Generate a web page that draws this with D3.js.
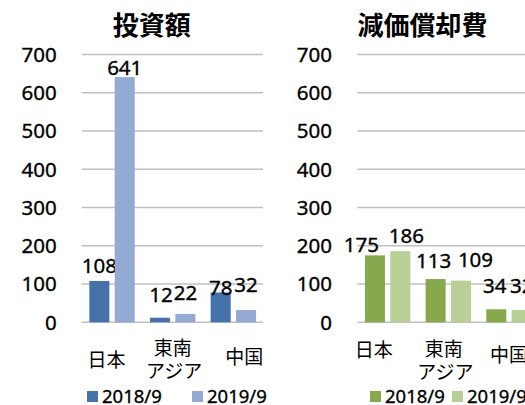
<!DOCTYPE html>
<html>
<head>
<meta charset="utf-8">
<script src="https://cdn.jsdelivr.net/npm/d3@7"></script>
<style>
  body { margin: 0; background: #fff; }
  svg { display: block; }
  text { fill: #000; }
  .num { stroke: #000; stroke-width: 0.35px; }
</style>
</head>
<body>
<div id="chart"></div>
<script>
// data
const categories = ["日本", "東南アジア", "中国"];
const seriesNames = ["2018/9", "2019/9"];
const investment2018 = [108, 12, 78];
const investment2019 = [641, 22, 32];
const depreciation2018 = [175, 113, 34];
const depreciation2019 = [186, 109, 32];
const yTicks = [0, 100, 200, 300, 400, 500, 600, 700];

const width = 525;
const height = 405;

const svg = d3.select('#chart')
    .append('svg')
    .attr('width', width)
    .attr('height', height);

// shared vertical scale
const y = d3.scaleLinear()
    .domain([0, 700])
    .range([322.3, 54.5]);

// label nudges (Excel moved some of them by hand)
const panels = [
    {
        title: '投資額', titleX: 151.7, x0: 81.7, gridEnd: 263, tickRight: 56.7,
        series: [investment2018, investment2019],
        colors: ['#4672aa', '#95aad2'],
        nudge: [[[0, -8], [1, -16], [0, 2.5]], [[0, -2], [0, -14], [0, -18]]],
        catDx: [-5.5, 0, 11], catY: [360, 360, 357],
        legendX: [87, 192]
    },
    {
        title: '減価償却費', titleX: 422.5, x0: 357.3, gridEnd: 540, tickRight: 332,
        series: [depreciation2018, depreciation2019],
        colors: ['#88a84e', '#b8cf95'],
        nudge: [[[-13.5, -3], [-2, -11], [-1.5, -16]], [[6, -8], [14.5, -13.6], [0, -17]]],
        catDx: [-14, -4.5, 0], catY: [350, 361, 355],
        legendX: [370, 452]
    }
];

panels.forEach(p => {
    const g = svg.append('g');

    const x = d3.scaleBand()
        .domain(categories)
        .range([p.x0, p.x0 + 182]);

    const xs = d3.scaleBand()
        .domain(seriesNames)
        .range([0, x.bandwidth()])
        .paddingInner(0.21)
        .paddingOuter(0.3);

    // title
    g.append('text')
        .attr('x', p.titleX)
        .attr('y', 26)
        .attr('dy', '0.35em')
        .attr('text-anchor', 'middle')
        .style('font-family', '"Noto Sans CJK JP"')
        .style('font-weight', 'bold')
        .style('font-size', '26px')
        .text(p.title);

    // gridlines
    g.selectAll('line.grid')
        .data(yTicks)
        .enter().append('line')
        .attr('class', 'grid')
        .attr('x1', p.x0)
        .attr('x2', p.gridEnd)
        .attr('y1', d => y(d))
        .attr('y2', d => y(d))
        .attr('stroke', '#c0c0c0')
        .attr('stroke-width', 1.6);

    // tick labels
    g.selectAll('text.tick')
        .data(yTicks)
        .enter().append('text')
        .attr('class', 'tick num')
        .attr('x', p.tickRight)
        .attr('y', d => y(d))
        .attr('dy', '0.36em')
        .attr('text-anchor', 'end')
        .style('font-family', '"Noto Sans"')
        .style('font-size', '20.5px')
        .text(d => d);

    // bars + labels
    p.series.forEach((vals, si) => {
        const name = seriesNames[si];
        g.selectAll('rect.s' + si)
            .data(vals)
            .enter().append('rect')
            .attr('class', 's' + si)
            .attr('x', (d, i) => x(categories[i]) + xs(name))
            .attr('width', xs.bandwidth())
            .attr('y', d => y(d))
            .attr('height', d => y(0) - y(d))
            .attr('fill', p.colors[si]);

        g.selectAll('text.v' + si)
            .data(vals)
            .enter().append('text')
            .attr('class', 'v' + si + ' num')
            .attr('x', (d, i) => x(categories[i]) + xs(name) + xs.bandwidth() / 2 + p.nudge[si][i][0])
            .attr('y', (d, i) => y(d) + p.nudge[si][i][1])
            .attr('text-anchor', 'middle')
            .style('font-family', '"Noto Sans"')
            .style('font-size', '20.5px')
            .text(d => d);
    });

    // category labels (long ones wrap after two chars)
    categories.forEach((c, i) => {
        const lines = c.length > 2 ? [c.slice(0, 2), c.slice(2)] : [c];
        const cx = x(c) + x.bandwidth() / 2 + p.catDx[i];
        const t = g.append('text')
            .attr('text-anchor', 'middle')
            .style('font-family', '"Noto Sans CJK JP"')
            .style('font-size', '19px');
        lines.forEach((ln, k) => {
            t.append('tspan')
                .attr('x', cx + (k === 1 ? 1.5 : 0))
                .attr('y', p.catY[i] + (k - (lines.length - 1) / 2) * 23)
                .attr('dy', '0.36em')
                .text(ln);
        });
    });

    // legend
    seriesNames.forEach((s, si) => {
        const lx = p.legendX[si];
        g.append('rect')
            .attr('x', lx)
            .attr('y', 391)
            .attr('width', 11)
            .attr('height', 11)
            .attr('fill', p.colors[si]);
        g.append('text')
            .attr('class', 'num')
            .attr('x', lx + 15)
            .attr('y', 402.5)
            .style('font-family', '"Noto Sans"')
            .style('font-size', '18.5px')
            .text(s);
    });
});
</script>
</body>
</html>
